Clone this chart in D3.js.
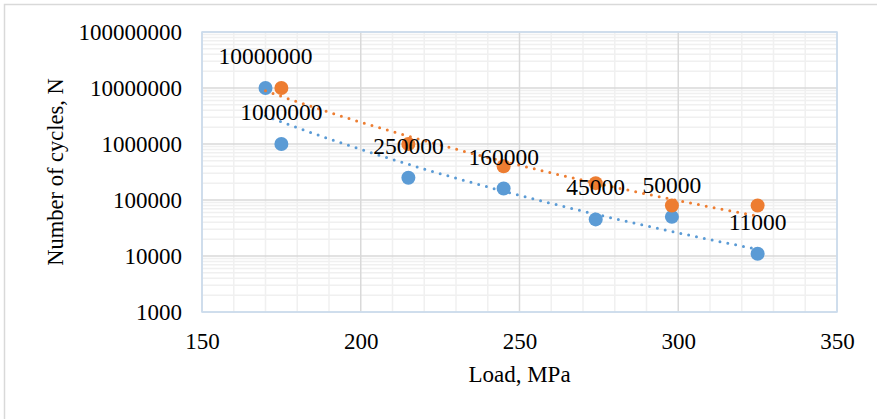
<!DOCTYPE html>
<html>
<head>
<meta charset="utf-8">
<script src="https://cdn.jsdelivr.net/npm/d3@7"></script>
<style>
  html, body { margin: 0; padding: 0; background: #fff; }
  svg { display: block; }
  text { font-family: "Liberation Serif", "Times New Roman", serif; fill: #000; }
</style>
</head>
<body>
<svg id="chart" width="877" height="419"></svg>
<script>
// ---- data ----
const blueLoad   = [170, 175, 215, 245, 274, 298, 325];
const blueCycles = [10000000, 1000000, 250000, 160000, 45000, 50000, 11000];
const blueLabels = ["10000000", "1000000", "250000", "160000", "45000", "50000", "11000"];
const orangeLoad   = [175, 215, 245, 274, 298, 325];
const orangeCycles = [10000000, 1000000, 400000, 200000, 80000, 80000];
const xTicks = [150, 200, 250, 300, 350];
const yTicks = [1000, 10000, 100000, 1000000, 10000000, 100000000];
const trendRange = [170, 325];

const blueColor = "#5b9bd5", orangeColor = "#ed7d31";

const svg = d3.select("#chart");
const m = { left: 202, right: 837, top: 32, bottom: 312 };

const x = d3.scaleLinear().domain([150, 350]).range([m.left, m.right]);
const y = d3.scaleLog().domain([1000, 100000000]).range([m.bottom, m.top]);

// outer chart border (only top/left visible in crop)
svg.append("rect").attr("x", 4.5).attr("y", 4.5).attr("width", 1000).attr("height", 1000)
  .attr("fill", "none").attr("stroke", "#d9d9d9").attr("stroke-width", 1.5);

const g = svg.append("g");

// minor gridlines
const xMinor = d3.range(150, 351, 10).filter(v => v % 50 !== 0);
g.selectAll(".xminor").data(xMinor).join("line")
  .attr("x1", d => x(d)).attr("x2", d => x(d)).attr("y1", m.top).attr("y2", m.bottom)
  .attr("stroke", "#f0f0f0").attr("stroke-width", 1.5);
const yMinor = [];
for (let e = 3; e < 8; e++) for (let k = 2; k <= 9; k++) yMinor.push(k * Math.pow(10, e));
g.selectAll(".yminor").data(yMinor).join("line")
  .attr("x1", m.left).attr("x2", m.right).attr("y1", d => y(d)).attr("y2", d => y(d))
  .attr("stroke", "#f0f0f0").attr("stroke-width", 1.5);

// major gridlines
g.selectAll(".xmajor").data(xTicks).join("line")
  .attr("x1", d => x(d)).attr("x2", d => x(d)).attr("y1", m.top).attr("y2", m.bottom)
  .attr("stroke", "#d9d9d9").attr("stroke-width", 1.5);
g.selectAll(".ymajor").data(yTicks).join("line")
  .attr("x1", m.left).attr("x2", m.right).attr("y1", d => y(d)).attr("y2", d => y(d))
  .attr("stroke", "#d9d9d9").attr("stroke-width", 1.5);

// plot border
g.append("rect").attr("x", m.left).attr("y", m.top)
  .attr("width", m.right - m.left).attr("height", m.bottom - m.top)
  .attr("fill", "none").attr("stroke", "#c9dcf0").attr("stroke-width", 1.5);

// axes (labels only)
const xAxis = d3.axisBottom(x).tickValues(xTicks).tickSize(0).tickPadding(0).tickFormat(d3.format("d"));
const xg = svg.append("g").attr("transform", `translate(0,${m.bottom})`).call(xAxis);
xg.select(".domain").remove();
xg.selectAll("text").attr("dy", null).attr("y", 37).style("font-size", "23px")
  .style("font-family", '"Liberation Serif", serif').attr("fill", "#000");

const yAxis = d3.axisLeft(y).tickValues(yTicks).tickSize(0).tickPadding(0).tickFormat(d3.format("d"));
const yg = svg.append("g").attr("transform", `translate(182,0)`).call(yAxis);
yg.select(".domain").remove();
yg.selectAll("text").attr("dy", "0.33em").attr("x", 0).style("font-size", "23px")
  .style("font-family", '"Liberation Serif", serif').attr("fill", "#000");

// axis titles
svg.append("text").attr("x", (m.left + m.right) / 2).attr("y", 382)
  .attr("text-anchor", "middle").style("font-size", "23px").text("Load, MPa");
svg.append("text").attr("transform", `translate(63,${(m.top + m.bottom) / 2}) rotate(-90)`)
  .attr("text-anchor", "middle").style("font-size", "22.5px").text("Number of cycles, N");

// markers
const blue = blueLoad.map((v, i) => ({ x: v, y: blueCycles[i], label: blueLabels[i] }));
const orange = orangeLoad.map((v, i) => ({ x: v, y: orangeCycles[i] }));

svg.append("g").selectAll("circle").data(blue).join("circle")
  .attr("cx", d => x(d.x)).attr("cy", d => y(d.y)).attr("r", 7).attr("fill", blueColor);
svg.append("g").selectAll("circle").data(orange).join("circle")
  .attr("cx", d => x(d.x)).attr("cy", d => y(d.y)).attr("r", 7).attr("fill", orangeColor);

// power trendlines (least squares in log-log space)
function powerFit(pts) {
  const lx = pts.map(p => Math.log10(p.x)), ly = pts.map(p => Math.log10(p.y));
  const mx = d3.mean(lx), my = d3.mean(ly);
  const b = d3.sum(lx, (v, i) => (v - mx) * (ly[i] - my)) / d3.sum(lx, v => (v - mx) ** 2);
  const a = my - b * mx;
  return xv => Math.pow(10, a + b * Math.log10(xv));
}
const line = d3.line().x(d => x(d[0])).y(d => y(d[1]));
[[blue, blueColor], [orange, orangeColor]].forEach(([pts, col]) => {
  const f = powerFit(pts);
  const xs = d3.range(trendRange[0], trendRange[1] + 0.01, 1);
  svg.append("path").datum(xs.map(v => [v, f(v)])).attr("d", line)
    .attr("fill", "none").attr("stroke", col).attr("stroke-width", 3)
    .attr("stroke-linecap", "round").attr("stroke-dasharray", "0 8");
});

// data labels (blue series values)
svg.append("g").selectAll("text").data(blue).join("text")
  .attr("x", d => x(d.x)).attr("y", d => y(d.y) - 24)
  .attr("text-anchor", "middle").style("font-size", "23.5px").text(d => d.label);
</script>
</body>
</html>
